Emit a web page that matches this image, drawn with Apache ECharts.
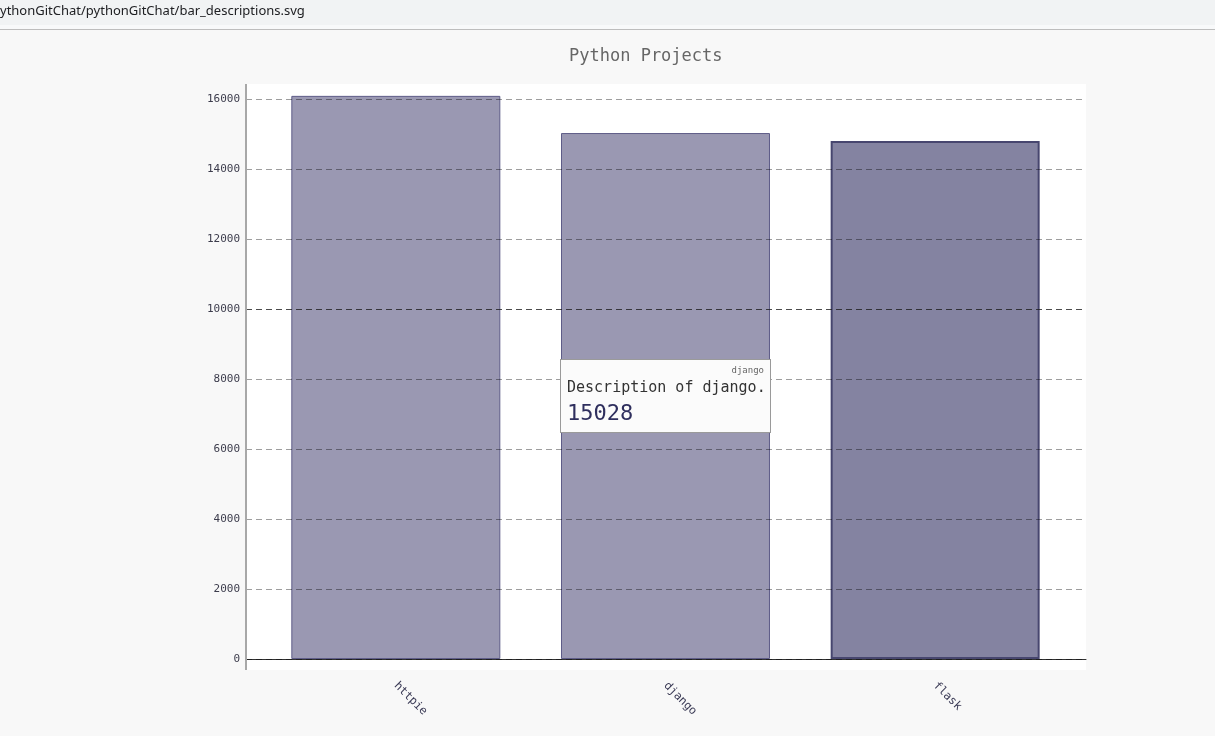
<!DOCTYPE html>
<html>
<head>
<meta charset="utf-8">
<script src="https://cdn.jsdelivr.net/npm/echarts@6/dist/echarts.min.js"></script>
<style>
  html, body { margin: 0; padding: 0; background: #f8f8f8; }
  #chart { width: 1215px; height: 736px; }
</style>
</head>
<body>
<div id="chart"></div>
<script>
const projectNames = ['httpie', 'django', 'flask']
const starCounts = [16090, 15028, 14800]
const descriptions = ['Description of httpie.', 'Description of django.', 'Description of flask.']
const yMax = 16429
const yStep = 2000

const mono = '"DejaVu Sans Mono", "Liberation Mono", monospace'

main()

function main() {
  const chart = echarts.init(document.getElementById('chart'))

  // light bars, the last one is drawn darker like in the screenshot
  const barData = starCounts.map((v, i) => {
    const dark = i === projectNames.length - 1
    return {
      value: v,
      name: projectNames[i],
      desc: descriptions[i],
      itemStyle: dark
        ? { color: '#8483a1', borderColor: '#47466f', borderWidth: 2 }
        : { color: '#9a98b2', borderColor: '#5e5c88', borderWidth: 1 }
    }
  })

  // every split line dashed grey, 10000 a bit darker
  const splitColors = []
  for (let t = 0; t <= 16000; t += yStep) {
    splitColors.push(t === 10000 ? 'rgba(30,30,30,0.8)' : 'rgba(0,0,0,0.38)')
  }

  const option = {
    backgroundColor: '#f8f8f8',
    animation: false,
    title: {
      text: 'Python Projects',
      left: 569,
      top: 48,
      padding: 0,
      textStyle: { fontFamily: mono, fontSize: 17, fontWeight: 'normal', color: '#666' }
    },
    graphic: [
      // browser address bar strip
      { type: 'rect', z: -10, shape: { x: 0, y: 0, width: 1215, height: 25 }, style: { fill: '#f1f3f4' } },
      { type: 'rect', z: -10, shape: { x: 0, y: 25, width: 1215, height: 4 }, style: { fill: '#f8f9fa' } },
      { type: 'rect', z: -10, shape: { x: 0, y: 29, width: 1215, height: 1 }, style: { fill: '#bdbdbd' } },
      { type: 'text', z: -9, left: 0, top: 5,
        style: { text: 'ythonGitChat/pythonGitChat/bar_descriptions.svg', fill: '#202124',
                 font: '13px "Noto Sans", "Open Sans", sans-serif' } },
      // plot background and the grey y axis line
      { type: 'rect', z: -5, shape: { x: 246, y: 84, width: 840, height: 586 }, style: { fill: '#ffffff' } },
      { type: 'rect', z: 10, shape: { x: 245, y: 84, width: 2, height: 586 }, style: { fill: '#a8a8a8' } }
    ],
    tooltip: {
      trigger: 'item',
      triggerOn: 'none',
      alwaysShowContent: true,
      transitionDuration: 0,
      backgroundColor: '#fbfbfb',
      borderColor: '#9a9a9a',
      borderWidth: 1,
      borderRadius: 0,
      padding: [3, 6, 3, 6],
      extraCssText: 'box-shadow:none;',
      position: function (point, params, dom, rect, size) {
        const w = size.contentSize[0], h = size.contentSize[1]
        if (rect) {
          return [rect.x + rect.width / 2 - w / 2, rect.y + rect.height / 2 - h / 2]
        }
        const p = chart.convertToPixel({ seriesIndex: 0 }, [params.name, params.value / 2])
        return [p[0] - w / 2, p[1] - h / 2]
      },
      formatter: function (p) {
        return '<div style="font-family:' + mono.replace(/"/g, "'") + ';width:197px">' +
          '<div style="text-align:right;font-size:9px;line-height:15px;color:#666">' + p.name + '</div>' +
          '<div style="font-size:15px;line-height:19px;color:#333">' + p.data.desc + '</div>' +
          '<div style="font-size:22px;line-height:32px;color:#2f2f5e">' + p.value + '</div>' +
          '</div>'
      }
    },
    grid: [
      { left: 246, right: 129, top: 84, bottom: 77 },
      { left: 261, right: 145, top: 84, bottom: 77 }
    ],
    xAxis: [
      {
        gridIndex: 0,
        type: 'value',
        min: 0,
        max: 1,
        axisLine: { show: true, lineStyle: { color: '#333', width: 1 } },
        axisTick: { show: false },
        axisLabel: { show: false },
        splitLine: { show: false }
      },
      {
        gridIndex: 1,
        type: 'category',
        data: projectNames,
        axisLine: { show: false },
        axisTick: { show: false },
        axisLabel: {
          rotate: -45,
          margin: 25,
          fontFamily: mono,
          fontSize: 11.5,
          color: '#3a3a55'
        }
      }
    ],
    yAxis: [
      {
        gridIndex: 0,
        type: 'value',
        min: 0,
        max: yMax,
        interval: yStep,
        z: 5,
        axisLine: { show: false },
        axisTick: { show: false },
        axisLabel: {
          showMaxLabel: false,
          margin: 6,
          fontFamily: mono,
          fontSize: 11,
          color: '#3c3c4c',
          formatter: v => String(v)
        },
        splitLine: {
          show: true,
          showMaxLine: false,
          lineStyle: { color: splitColors, type: [6, 4], width: 1 }
        }
      },
      {
        gridIndex: 1,
        type: 'value',
        min: 0,
        max: yMax,
        show: false
      }
    ],
    series: [
      {
        name: 'projects',
        type: 'bar',
        xAxisIndex: 1,
        yAxisIndex: 1,
        z: 2,
        barCategoryGap: '22.5%',
        emphasis: { disabled: true },
        data: barData
      }
    ]
  }

  chart.setOption(option)
  chart.dispatchAction({ type: 'showTip', seriesIndex: 0, dataIndex: 1 })
  window.addEventListener('resize', chart.resize)
}
</script>
</body>
</html>
